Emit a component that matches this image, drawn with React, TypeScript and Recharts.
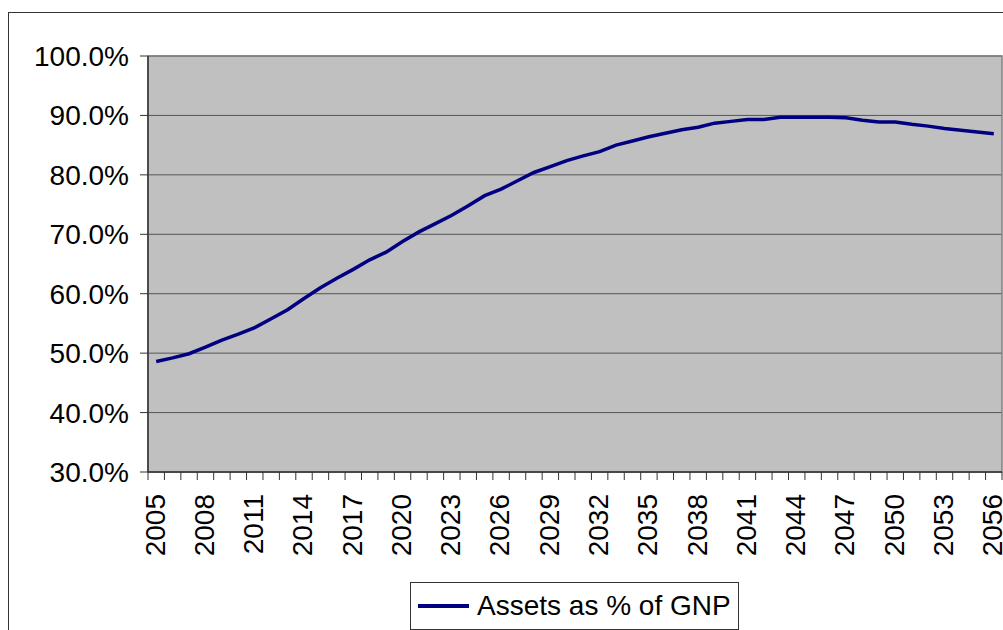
import React from 'react';
import {
  ComposedChart,
  Line,
  XAxis,
  YAxis,
  CartesianGrid,
  Legend,
  ReferenceArea,
} from 'recharts';

const years: string[] = [
  '2005', '2006', '2007', '2008', '2009', '2010', '2011', '2012', '2013', '2014',
  '2015', '2016', '2017', '2018', '2019', '2020', '2021', '2022', '2023', '2024',
  '2025', '2026', '2027', '2028', '2029', '2030', '2031', '2032', '2033', '2034',
  '2035', '2036', '2037', '2038', '2039', '2040', '2041', '2042', '2043', '2044',
  '2045', '2046', '2047', '2048', '2049', '2050', '2051', '2052', '2053', '2054',
  '2055', '2056',
];

const assetsPct: number[] = [
  48.6, 49.2, 49.9, 51.0, 52.2, 53.2, 54.3, 55.8, 57.3, 59.2,
  61.0, 62.6, 64.1, 65.7, 67.0, 68.8, 70.4, 71.8, 73.2, 74.8,
  76.5, 77.6, 79.0, 80.4, 81.4, 82.4, 83.2, 83.9, 85.0, 85.7,
  86.4, 87.0, 87.6, 88.0, 88.7, 89.0, 89.3, 89.3, 89.7, 89.7,
  89.7, 89.7, 89.6, 89.2, 88.9, 88.9, 88.5, 88.2, 87.8, 87.5,
  87.2, 86.9,
];

const yTicks: number[] = [30, 40, 50, 60, 70, 80, 90, 100];
const LABEL_EVERY = 3;
const SERIES_NAME = 'Assets as % of GNP';

const data = years.map((year, i) => ({ year, assets: assetsPct[i] }));

const FONT = "Arial, 'Liberation Sans', sans-serif";
const AXIS_COLOR = '#333333';
const LINE_COLOR = '#000080';

const XTick = (props: any) => {
  const { x, y, payload, index } = props;
  const off = payload && typeof payload.offset === 'number' ? payload.offset : 0;
  const showLabel = index % LABEL_EVERY === 0;
  const isLast = index === years.length - 1;
  const ly = y + 22;
  return (
    <g>
      <line x1={x - off} x2={x - off} y1={y} y2={y + 8} stroke={AXIS_COLOR} strokeWidth={1} />
      {isLast && (
        <line x1={x + off} x2={x + off} y1={y} y2={y + 8} stroke={AXIS_COLOR} strokeWidth={1} />
      )}
      {showLabel && (
        <text
          x={x}
          y={ly}
          transform={`rotate(-90, ${x}, ${ly})`}
          textAnchor="end"
          dy="0.3em"
          fontSize={28}
          fontFamily={FONT}
          fill="#000"
        >
          {payload.value}
        </text>
      )}
    </g>
  );
};

const LegendBox = () => (
  <div
    style={{
      boxSizing: 'border-box',
      width: 329,
      height: 48,
      border: '1px solid #333',
      background: '#fff',
      display: 'flex',
      alignItems: 'center',
      fontFamily: FONT,
      fontSize: 28,
      color: '#000',
      whiteSpace: 'nowrap',
    }}
  >
    <svg width={51} height={6} style={{ marginLeft: 7, marginRight: 8, display: 'block' }}>
      <line x1={0} x2={51} y1={3} y2={3} stroke={LINE_COLOR} strokeWidth={4} />
    </svg>
    <span>{SERIES_NAME}</span>
  </div>
);

export default function App() {
  return (
    <div style={{ position: 'absolute', left: 8, top: 8, width: 995, height: 622, overflow: 'hidden' }}>
      <div
        style={{
          position: 'absolute',
          left: 0,
          top: 4,
          width: 995,
          height: 618,
          boxSizing: 'border-box',
          borderLeft: '1px solid #333',
          borderTop: '1px solid #333',
        }}
      />
      <div style={{ position: 'absolute', left: 0, top: 0 }}>
        <ComposedChart
          width={995}
          height={622}
          data={data}
          margin={{ top: 48, right: 1, bottom: 48, left: 0 }}
        >
          <CartesianGrid vertical={false} stroke="#555555" fill="#C0C0C0" />
          <ReferenceArea y1={30} y2={100} fill="none" stroke="#808080" strokeWidth={1.5} ifOverflow="visible" />
          <XAxis
            dataKey="year"
            type="category"
            scale="band"
            interval={0}
            tickLine={false}
            tickSize={0}
            tickMargin={0}
            height={110}
            axisLine={{ stroke: AXIS_COLOR, strokeWidth: 1.5 }}
            tick={(p: any) => <XTick {...p} />}
          />
          <YAxis
            domain={[30, 100]}
            ticks={yTicks}
            interval={0}
            tickFormatter={(v: number) => `${v.toFixed(1)}%`}
            width={140}
            tickSize={8}
            tickMargin={11}
            axisLine={{ stroke: AXIS_COLOR, strokeWidth: 1.5 }}
            tickLine={{ stroke: AXIS_COLOR }}
            tick={{ fontSize: 28, fill: '#000', fontFamily: FONT }}
          />
          <Line
            type="linear"
            dataKey="assets"
            name={SERIES_NAME}
            stroke={LINE_COLOR}
            strokeWidth={3.5}
            dot={false}
            activeDot={false}
            isAnimationActive={false}
          />
          <Legend
            verticalAlign="middle"
            align="center"
            layout="horizontal"
            wrapperStyle={{ left: 402, top: 574, width: 329, height: 48 }}
            content={() => <LegendBox />}
          />
        </ComposedChart>
      </div>
    </div>
  );
}
